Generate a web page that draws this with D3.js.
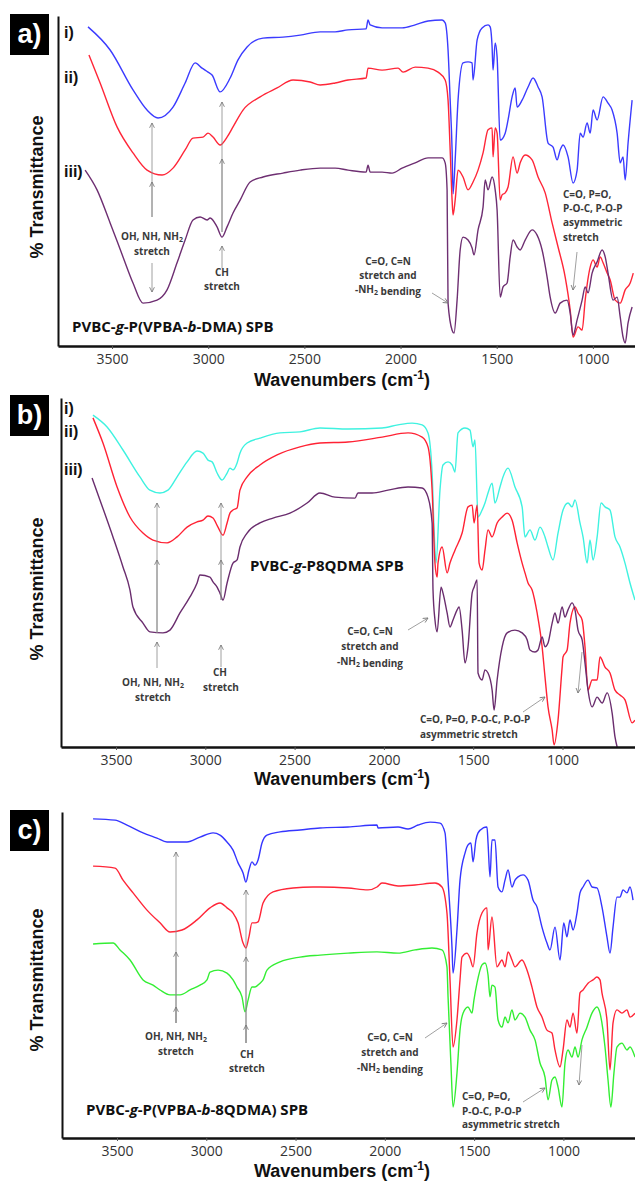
<!DOCTYPE html>
<html>
<head>
<meta charset="utf-8">
<script src="https://d3js.org/d3.v7.min.js"></script>
<style>
body { margin: 0; background: #fff; }
svg { display: block; }
.tick text { font-family: "Open Sans", sans-serif; font-size: 14px; fill: #333; }
.note { font-family: "Open Sans", sans-serif; font-size: 10px; font-weight: bold; fill: #3a3a3a; }
.sample { font-family: "Open Sans", sans-serif; font-size: 15px; font-weight: bold; fill: #111; }
.title { font-family: "Liberation Sans", Arial, sans-serif; font-size: 18px; font-weight: bold; fill: #111; }
.roman { font-family: "Liberation Sans", Arial, sans-serif; font-size: 16px; font-weight: bold; fill: #111; }
</style>
</head>
<body>
<svg width="635" height="1182"></svg>
<script>
// x ticks (wavenumber, cm-1)
var xTicks = [3500, 3000, 2500, 2000, 1500, 1000];

// panel a) : [wavenumber, relative transmittance 0-100]
var aBlue = [[3625,96.7],[3510,89.7],[3391,77.6],[3318,71.5],[3261,69.1],[3183,72.4],[3120,79.7],[3068,85.8],[3032,84.2],[3001,83.0],[2980,82.1],[2938,77.0],[2886,81.2],[2845,86.7],[2798,90.6],[2715,93.3],[2611,93.6],[2522,94.2],[2418,95.2],[2340,95.2],[2273,95.8],[2179,96.1],[2169,98.8],[2158,97.3],[2096,96.4],[1992,96.4],[1924,97.3],[1857,98.5],[1784,98.8],[1768,97.9],[1753,89.7],[1742,74.5],[1732,59.4],[1727,46.1],[1716,56.4],[1701,74.5],[1675,85.8],[1649,86.1],[1628,85.8],[1623,80.6],[1602,92.7],[1576,96.4],[1545,97.3],[1534,96.7],[1524,90.6],[1519,83.6],[1508,91.8],[1498,87.6],[1482,62.4],[1456,64.5],[1441,68.5],[1420,75.5],[1404,78.2],[1394,72.4],[1368,74.5],[1337,78.5],[1311,81.2],[1285,78.5],[1264,75.5],[1233,61.5],[1207,60.3],[1186,56.4],[1170,59.4],[1155,60.9],[1129,57.3],[1103,49.4],[1082,53.3],[1066,64.5],[1051,63.3],[1030,67.6],[1014,64.5],[999,71.5],[978,68.5],[947,75.5],[921,73.6],[900,71.5],[874,64.5],[858,55.5],[843,57.3],[832,50.3],[817,61.5],[796,74.5]];
var aRed = [[3620,88.2],[3562,79.7],[3474,66.4],[3391,58.5],[3318,53.3],[3240,51.8],[3183,53.9],[3120,59.4],[3079,63.0],[3027,63.3],[3001,64.5],[2975,63.3],[2938,60.9],[2902,63.3],[2871,66.4],[2819,71.5],[2730,75.5],[2642,78.2],[2559,80.6],[2470,80.0],[2418,79.1],[2340,79.7],[2273,80.6],[2179,81.2],[2169,84.2],[2096,83.6],[2013,84.2],[1987,83.0],[1924,84.5],[1857,84.2],[1805,83.0],[1768,80.6],[1753,74.5],[1742,59.4],[1732,44.2],[1727,39.7],[1716,44.2],[1701,53.3],[1675,51.2],[1649,47.3],[1623,49.7],[1597,53.3],[1571,58.5],[1545,65.5],[1524,66.1],[1519,57.3],[1508,66.1],[1498,64.5],[1482,44.2],[1472,45.8],[1456,46.4],[1441,48.2],[1415,57.3],[1394,52.4],[1378,55.5],[1352,57.9],[1316,56.4],[1285,51.2],[1248,46.4],[1212,37.3],[1181,30.0],[1144,20.9],[1118,10.9],[1103,2.7],[1077,5.8],[1056,4.8],[1040,13.9],[1014,23.9],[999,26.1],[978,23.9],[962,27.0],[947,25.2],[926,22.1],[910,20.0],[884,13.9],[858,13.0],[832,17.0],[806,19.1],[790,22.1]];
var aPurple = [[3640,53.3],[3578,47.3],[3510,37.3],[3443,27.0],[3391,19.1],[3339,13.0],[3266,13.9],[3214,17.0],[3162,25.2],[3120,32.1],[3079,38.2],[3042,39.1],[3006,38.2],[2990,38.8],[2954,36.1],[2928,33.0],[2902,36.1],[2871,40.3],[2834,44.2],[2782,49.7],[2715,51.2],[2611,52.4],[2522,53.3],[2418,53.9],[2340,53.9],[2273,53.3],[2179,52.7],[2169,54.8],[2158,52.7],[2096,52.7],[2044,52.4],[1992,53.9],[1924,55.5],[1857,57.0],[1784,57.0],[1768,55.5],[1758,47.3],[1753,13.0],[1732,4.8],[1722,3.9],[1706,13.9],[1690,29.1],[1675,33.0],[1649,32.1],[1628,29.7],[1618,27.6],[1597,35.2],[1571,42.1],[1560,50.3],[1545,47.3],[1524,51.2],[1508,47.3],[1498,41.2],[1482,14.8],[1467,17.9],[1446,19.1],[1430,27.0],[1415,32.1],[1394,30.0],[1378,29.1],[1352,32.1],[1316,35.2],[1290,33.6],[1264,29.1],[1238,20.9],[1222,14.8],[1196,10.0],[1170,13.0],[1134,13.9],[1118,10.0],[1103,3.3],[1082,7.9],[1056,13.9],[1040,17.9],[1025,16.1],[1004,22.1],[978,25.5],[952,29.1],[936,27.0],[921,22.1],[895,13.9],[874,14.8],[858,8.8],[843,2.7],[832,0.9],[817,7.0],[796,11.8]];

// panel b)
var bCyan = [[3629,95.1],[3550,91.7],[3461,85.1],[3366,77.4],[3310,73.6],[3254,72.8],[3209,73.6],[3158,77.4],[3102,81.7],[3046,84.8],[3013,84.2],[2985,82.2],[2962,81.7],[2934,78.5],[2906,76.5],[2878,78.5],[2862,79.9],[2845,79.4],[2822,81.4],[2806,84.2],[2766,87.1],[2694,88.5],[2582,90.0],[2470,90.3],[2358,91.4],[2201,91.1],[2010,91.4],[1921,92.3],[1842,92.8],[1786,92.3],[1753,90.0],[1730,78.5],[1719,62.2],[1708,52.7],[1686,73.6],[1669,80.8],[1641,81.7],[1618,80.8],[1602,78.8],[1585,90.0],[1546,91.4],[1518,90.8],[1501,86.0],[1490,88.0],[1473,65.9],[1450,67.9],[1434,69.9],[1417,72.8],[1394,75.6],[1378,69.9],[1350,74.5],[1333,77.4],[1305,79.9],[1266,74.5],[1226,68.8],[1210,60.2],[1182,62.2],[1154,59.3],[1126,63.0],[1098,60.2],[1081,57.3],[1053,53.6],[1025,61.3],[997,67.9],[969,69.9],[946,68.8],[930,70.8],[902,64.2],[885,60.2],[862,52.7],[846,59.3],[829,53.6],[806,60.2],[784,69.9],[762,68.8],[734,67.9],[706,60.2],[678,57.3],[650,52.7],[622,47.0],[594,42.1]];
var bRed = [[3629,94.3],[3573,87.1],[3494,74.5],[3422,65.9],[3349,61.3],[3293,59.3],[3214,58.5],[3158,60.2],[3102,63.0],[3046,64.5],[3013,65.0],[2985,66.2],[2957,65.6],[2929,63.0],[2901,60.7],[2878,64.2],[2862,67.0],[2845,67.9],[2822,68.5],[2806,73.6],[2766,77.4],[2694,80.8],[2598,83.7],[2470,86.0],[2358,87.1],[2201,87.4],[2010,88.8],[1865,90.0],[1786,88.8],[1753,86.0],[1730,73.6],[1714,52.7],[1702,48.7],[1697,52.7],[1674,57.3],[1646,49.9],[1630,52.7],[1602,56.4],[1562,61.3],[1529,68.8],[1506,69.3],[1495,64.2],[1478,69.3],[1467,52.7],[1450,50.7],[1434,56.4],[1417,62.2],[1394,60.2],[1366,64.2],[1338,65.9],[1310,67.0],[1282,65.0],[1254,58.5],[1226,52.7],[1210,49.9],[1193,47.0],[1170,45.0],[1142,38.4],[1114,28.7],[1098,20.1],[1081,11.5],[1058,4.9],[1047,0.6],[1025,7.7],[1002,22.9],[997,25.8],[974,27.8],[958,35.5],[930,40.1],[913,38.4],[890,36.4],[874,28.7],[857,16.3],[834,19.2],[806,19.2],[790,25.8],[762,22.9],[734,21.2],[706,16.3],[678,14.9],[650,13.5],[610,6.9],[594,7.7]];
var bPurple = [[3634,77.1],[3590,70.8],[3517,60.2],[3461,51.6],[3422,45.0],[3405,40.1],[3349,35.5],[3310,33.0],[3237,32.7],[3198,33.5],[3142,38.4],[3086,43.0],[3046,47.0],[3030,49.3],[2974,48.7],[2957,47.3],[2934,45.8],[2918,44.1],[2901,42.1],[2878,47.0],[2845,52.7],[2822,53.6],[2806,57.3],[2766,61.3],[2694,64.2],[2621,65.6],[2526,67.0],[2430,69.9],[2358,72.8],[2274,71.6],[2162,71.3],[2145,72.8],[2066,72.8],[1977,73.6],[1865,74.5],[1786,74.2],[1753,71.6],[1730,64.2],[1725,45.0],[1714,36.4],[1702,33.0],[1680,45.8],[1669,44.1],[1646,38.4],[1630,34.4],[1613,36.4],[1590,39.3],[1579,40.1],[1562,33.5],[1546,24.1],[1529,28.7],[1506,44.1],[1495,45.8],[1478,47.9],[1473,21.2],[1450,19.2],[1434,22.1],[1417,21.2],[1394,16.3],[1383,10.6],[1366,19.2],[1338,28.7],[1310,32.7],[1266,33.5],[1226,32.7],[1198,30.7],[1182,27.8],[1154,27.2],[1137,27.8],[1114,31.5],[1098,28.7],[1081,29.8],[1058,35.5],[1042,38.4],[1025,35.5],[1002,40.1],[986,37.2],[969,39.3],[946,41.3],[930,39.3],[913,33.5],[890,30.7],[874,24.1],[857,16.3],[834,11.5],[806,14.3],[778,12.6],[750,15.5],[722,9.7],[706,2.9],[694,0]];

// panel c)
var cBlue = [[3634,97.9],[3511,97.5],[3444,96.0],[3354,93.6],[3276,92.0],[3220,90.8],[3108,90.8],[3035,92.3],[2962,93.6],[2923,92.9],[2884,90.8],[2850,88.3],[2822,84.4],[2794,81.3],[2778,78.5],[2761,82.2],[2744,84.7],[2727,83.7],[2710,85.3],[2688,90.5],[2660,92.9],[2587,93.9],[2475,94.5],[2363,95.1],[2206,95.4],[2044,96.0],[2038,95.1],[1926,95.4],[1870,94.8],[1814,96.0],[1747,96.9],[1691,96.6],[1663,93.6],[1646,79.1],[1624,58.6],[1618,50.6],[1596,63.8],[1579,79.1],[1551,87.4],[1534,89.9],[1518,90.5],[1506,84.7],[1490,91.4],[1478,93.6],[1450,95.1],[1428,95.4],[1422,90.5],[1411,80.1],[1400,91.4],[1383,91.4],[1366,77.0],[1344,75.5],[1327,79.1],[1310,82.2],[1288,77.0],[1271,79.1],[1254,80.1],[1226,80.7],[1198,79.1],[1170,73.0],[1148,70.9],[1120,64.7],[1092,59.8],[1075,57.7],[1047,64.7],[1019,54.6],[998,66.0],[980,61.7],[963,66.9],[946,63.8],[924,69.0],[907,75.2],[890,77.0],[862,79.1],[840,77.0],[812,76.7],[784,70.9],[756,61.7],[739,56.7],[722,64.7],[700,73.9],[683,73.9],[666,76.1],[644,75.2],[627,77.0],[610,73.0]];
var cRed = [[3634,83.4],[3511,82.8],[3466,79.1],[3410,75.2],[3332,69.9],[3259,66.0],[3203,63.2],[3136,63.8],[3052,66.9],[2979,70.6],[2923,72.1],[2884,70.6],[2850,69.0],[2822,66.0],[2794,59.8],[2778,58.3],[2761,61.7],[2744,66.0],[2727,66.0],[2710,66.3],[2682,72.1],[2626,75.5],[2514,76.7],[2402,77.0],[2363,77.0],[2206,76.7],[2094,76.1],[2044,77.0],[2016,78.2],[1926,77.3],[1831,77.6],[1719,78.2],[1680,77.0],[1652,69.0],[1635,48.5],[1618,27.9],[1596,36.2],[1579,48.5],[1568,55.5],[1540,56.7],[1523,55.2],[1506,52.5],[1484,62.9],[1456,69.0],[1428,70.6],[1422,57.7],[1400,67.8],[1372,52.5],[1344,54.6],[1327,52.5],[1310,57.1],[1288,54.6],[1271,52.5],[1232,54.6],[1204,51.5],[1176,46.3],[1148,40.2],[1120,37.1],[1092,33.1],[1064,32.2],[1047,27.0],[1019,21.8],[1002,27.0],[980,36.2],[963,34.0],[946,38.3],[924,32.2],[907,44.5],[890,45.4],[862,47.5],[834,48.5],[812,49.4],[795,48.5],[784,44.5],[756,36.2],[739,20.9],[722,35.3],[700,39.3],[672,38.3],[644,39.3],[627,37.1],[599,38.3]];
var cGreen = [[3634,59.5],[3522,59.8],[3483,57.7],[3427,54.6],[3354,48.5],[3298,46.9],[3259,45.4],[3203,43.9],[3147,43.9],[3091,45.4],[3035,46.9],[2996,48.5],[2979,50.9],[2934,51.5],[2884,50.6],[2850,48.5],[2828,46.3],[2800,43.3],[2783,38.7],[2766,42.3],[2744,46.3],[2727,46.3],[2699,47.5],[2682,48.5],[2660,51.5],[2587,54.0],[2475,55.5],[2363,56.1],[2206,56.7],[2044,57.1],[1926,56.7],[1831,57.7],[1736,58.3],[1680,57.7],[1652,52.5],[1646,43.3],[1630,23.0],[1618,9.5],[1596,19.9],[1579,33.1],[1562,38.3],[1534,40.2],[1512,38.3],[1501,42.3],[1484,47.5],[1456,53.1],[1439,53.7],[1422,50.0],[1411,43.3],[1400,46.9],[1383,46.3],[1366,36.2],[1344,34.0],[1327,37.1],[1310,35.3],[1288,39.3],[1271,36.2],[1243,38.3],[1215,37.1],[1187,33.1],[1159,30.1],[1131,23.0],[1103,18.7],[1086,11.7],[1064,17.8],[1047,18.7],[1030,15.6],[1008,9.5],[991,23.0],[974,27.0],[952,24.8],[935,27.9],[918,24.8],[896,30.1],[868,34.0],[840,38.3],[812,40.2],[795,38.3],[767,27.9],[750,17.8],[734,9.5],[717,19.9],[700,27.9],[672,29.1],[644,27.0],[627,27.9],[599,24.8]];

var svg = d3.select("svg");

svg.append("defs").append("marker")
    .attr("id", "head")
    .attr("viewBox", "0 0 10 10")
    .attr("refX", 9).attr("refY", 5)
    .attr("markerUnits", "userSpaceOnUse")
    .attr("markerWidth", 6).attr("markerHeight", 6)
    .attr("orient", "auto")
  .append("path")
    .attr("d", "M1,1 L9,5 L1,9")
    .attr("fill", "none")
    .attr("stroke", "#777")
    .attr("stroke-width", 1.4);

// text with "_2" subscripts and "*x*" italics
function richText(g, x, y, str, cls, anchor) {
  var t = g.append("text").attr("class", cls).attr("x", x).attr("y", y)
      .attr("text-anchor", anchor || "start");
  var italic = false;
  str.split(/(_\d|\*)/).forEach(function(part) {
    if (part === "") return;
    if (part === "*") { italic = !italic; return; }
    if (part[0] === "_") {
      t.append("tspan").attr("font-size", "7px").attr("dy", 2).text(part.slice(1));
      t.append("tspan").attr("dy", -2).text("");
      return;
    }
    t.append("tspan").attr("font-style", italic ? "italic" : null).text(part);
  });
  return t;
}

function arrow(x1, y1, x2, y2) {
  svg.append("line")
    .attr("x1", x1).attr("y1", y1).attr("x2", x2).attr("y2", y2)
    .attr("stroke", "#888").attr("stroke-width", 0.8)
    .attr("marker-end", "url(#head)");
}

var panels = [
  { tag: "a)", left: 58, top: 16, bottom: 346, dom: [3781, 781], box: 14,
    titleY: 386, yTitle: 187,
    series: [[aBlue, "#3b3bff"], [aRed, "#ff2638"], [aPurple, "#6e2f72"]],
    romans: [["i)", 38], ["ii)", 83], ["iii)", 177]],
    sample: ["PVBC-*g*-P(VPBA-*b*-DMA) SPB", 72, 332] },
  { tag: "b)", left: 61, top: 398, bottom: 747, dom: [3808, 594], box: 395,
    titleY: 785, yTitle: 589,
    series: [[bCyan, "#3ff2e0"], [bRed, "#ff2234"], [bPurple, "#6a2d6e"]],
    romans: [["i)", 414], ["ii)", 437], ["iii)", 475]],
    sample: ["PVBC-*g*-P8QDMA SPB", 250, 571] },
  { tag: "c)", left: 62, top: 812, bottom: 1138, dom: [3808, 599], box: 810,
    titleY: 1177, yTitle: 980,
    series: [[cBlue, "#3535ff"], [cRed, "#ff2638"], [cGreen, "#33ee33"]],
    romans: [],
    sample: ["PVBC-*g*-P(VPBA-*b*-8QDMA) SPB", 86, 1115] }
];

panels.forEach(function(p) {
  var x = d3.scaleLinear().domain(p.dom).range([p.left, 635]);
  var y = d3.scaleLinear().domain([0, 100]).range([p.bottom, p.top]);
  var line = d3.line()
      .x(function(d) { return x(d[0]); })
      .y(function(d) { return y(d[1]); })
      .curve(d3.curveMonotoneX);

  p.series.forEach(function(s) {
    svg.append("path").datum(s[0])
      .attr("d", line)
      .attr("fill", "none")
      .attr("stroke", s[1])
      .attr("stroke-width", 1.4)
      .attr("stroke-linejoin", "round");
  });

  var xa = svg.append("g")
      .attr("transform", "translate(0," + p.bottom + ")")
      .call(d3.axisBottom(x).tickValues(xTicks).tickSize(3).tickSizeOuter(0)
             .tickPadding(5).tickFormat(d3.format("d")));
  xa.select(".domain").attr("stroke", "#111").attr("stroke-width", 2.4);
  xa.selectAll(".tick line").attr("stroke", "#555");

  var ya = svg.append("g")
      .attr("transform", "translate(" + p.left + ",0)")
      .call(d3.axisLeft(y).tickValues([]).tickSizeOuter(0));
  ya.select(".domain").attr("stroke", "#111").attr("stroke-width", 2);

  // panel tag
  svg.append("rect").attr("x", 10).attr("y", p.box).attr("width", 39).attr("height", 41).attr("fill", "#000");
  svg.append("text").attr("x", 29.5).attr("y", p.box + 29)
    .attr("text-anchor", "middle")
    .style("font-family", "Liberation Sans, Arial, sans-serif")
    .style("font-size", "27px").style("font-weight", "bold")
    .attr("fill", "#fff").text(p.tag);

  // axis titles
  var tt = svg.append("text").attr("class", "title").attr("x", 342).attr("y", p.titleY)
    .attr("text-anchor", "middle");
  tt.append("tspan").text("Wavenumbers (cm");
  tt.append("tspan").attr("font-size", "12px").attr("dy", -7).text("-1");
  tt.append("tspan").attr("dy", 7).text(")");

  svg.append("text").attr("class", "title")
    .attr("transform", "translate(" + 43 + "," + p.yTitle + ") rotate(-90)")
    .attr("text-anchor", "middle")
    .text("% Transmittance");

  p.romans.forEach(function(r) {
    svg.append("text").attr("class", "roman").attr("x", 64).attr("y", r[1]).text(r[0]);
  });

  richText(svg, p.sample[1], p.sample[2], p.sample[0], "sample", "start");
});

// annotations panel a
arrow(152, 217, 152, 123); arrow(152, 217, 152, 182); arrow(152, 263, 152, 292);
arrow(222, 232, 222, 102); arrow(222, 232, 222, 159); arrow(222, 268, 222, 246);
arrow(432, 293, 448, 303); arrow(577, 252, 573, 290);
richText(svg, 152, 240, "OH, NH, NH_2", "note", "middle");
richText(svg, 152, 255, "stretch", "note", "middle");
richText(svg, 222, 276, "CH", "note", "middle");
richText(svg, 222, 290, "stretch", "note", "middle");
richText(svg, 388, 265, "C=O, C=N", "note", "middle");
richText(svg, 388, 279, "stretch and", "note", "middle");
richText(svg, 388, 293, "-NH_2 bending", "note", "middle");
richText(svg, 563, 198, "C=O, P=O,", "note", "start");
richText(svg, 563, 212, "P-O-C, P-O-P", "note", "start");
richText(svg, 563, 226, "asymmetric", "note", "start");
richText(svg, 563, 241, "stretch", "note", "start");

// annotations panel b
arrow(157, 633, 157, 503); arrow(157, 633, 157, 560); arrow(157, 668, 157, 642);
arrow(221, 600, 221, 503); arrow(221, 600, 221, 560); arrow(221, 667, 221, 645);
arrow(408, 630, 428, 618); arrow(523, 712, 545, 697); arrow(582, 652, 578, 693);
richText(svg, 153, 686, "OH, NH, NH_2", "note", "middle");
richText(svg, 153, 701, "stretch", "note", "middle");
richText(svg, 220, 676, "CH", "note", "middle");
richText(svg, 221, 691, "stretch", "note", "middle");
richText(svg, 370, 635, "C=O, C=N", "note", "middle");
richText(svg, 370, 650, "stretch and", "note", "middle");
richText(svg, 370, 665, "-NH_2 bending", "note", "middle");
richText(svg, 420, 723, "C=O, P=O,  P-O-C, P-O-P", "note", "start");
richText(svg, 420, 738, "asymmetric  stretch", "note", "start");

// annotations panel c
arrow(176, 1023, 176, 852); arrow(176, 1023, 176, 952); arrow(176, 1023, 176, 1007);
arrow(246, 1043, 246, 890); arrow(246, 1043, 246, 957); arrow(246, 1043, 246, 1025);
arrow(425, 1038, 447, 1023); arrow(523, 1102, 545, 1088); arrow(582, 1045, 579, 1085);
richText(svg, 176, 1040, "OH, NH, NH_2", "note", "middle");
richText(svg, 176, 1055, "stretch", "note", "middle");
richText(svg, 247, 1058, "CH", "note", "middle");
richText(svg, 247, 1072, "stretch", "note", "middle");
richText(svg, 390, 1041, "C=O, C=N", "note", "middle");
richText(svg, 390, 1056, "stretch and", "note", "middle");
richText(svg, 390, 1071, "-NH_2 bending", "note", "middle");
richText(svg, 462, 1100, "C=O, P=O,", "note", "start");
richText(svg, 462, 1115, "P-O-C, P-O-P", "note", "start");
richText(svg, 462, 1128, "asymmetric  stretch", "note", "start");
</script>
</body>
</html>
